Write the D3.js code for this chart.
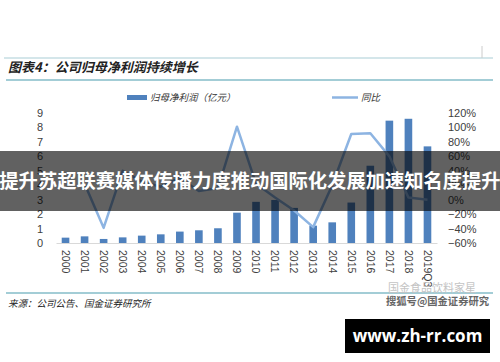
<!DOCTYPE html>
<html>
<head>
<meta charset="utf-8">
<script src="https://d3js.org/d3.v7.min.js"></script>
<style>
  body { margin: 0; background: #fff; }
  svg { display: block; }
</style>
</head>
<body>
<svg id="chart" width="500" height="362"></svg>
<script>
// data
var years = ['2000','2001','2002','2003','2004','2005','2006','2007','2008','2009',
             '2010','2011','2012','2013','2014','2015','2016','2017','2018','2019Q3'];
var profit = [0.37, 0.46, 0.28, 0.39, 0.51, 0.6, 0.79, 0.88, 1.02, 2.1,
              2.85, 2.98, 2.43, 1.2, 1.43, 2.8, 5.35, 8.47, 8.6, 6.69];
var yoy = [null, 0.22, -0.39, 0.40, 0.25, 0.18, 0.30, 0.12, 0.16, 1.01,
           0.22, 0.03, -0.15, -0.38, 0.20, 0.91, 0.92, 0.60, 0.03, 0.0];
var leftTicks = [0,1,2,3,4,5,6,7,8,9];
var rightTicks = [-0.6,-0.4,-0.2,0,0.2,0.4,0.6,0.8,1.0,1.2];

var svg = d3.select('#chart');
var cjk = '"Noto Sans CJK SC", sans-serif';
var latin = 'Arial, "Liberation Sans", sans-serif';
var barColor = '#4f81bd', lineColor = '#8db4e2', teal = '#84bcc8';

var plotTop = 113, plotBottom = 243, plotLeft = 56, plotRight = 437;

var x = d3.scaleBand().domain(years).range([plotLeft, plotRight])
  .paddingInner(0.6).paddingOuter(0.3);
var yL = d3.scaleLinear().domain([0, 9]).range([plotBottom, plotTop]);
var yR = d3.scaleLinear().domain([-0.6, 1.2]).range([plotBottom, plotTop]);

// header rules + title
svg.append('line').attr('x1', 4).attr('x2', 493).attr('y1', 58).attr('y2', 58)
  .attr('stroke', '#a9cdd5').attr('stroke-width', 1);
svg.append('line').attr('x1', 482).attr('x2', 482).attr('y1', 46).attr('y2', 58)
  .attr('stroke', '#ccc').attr('stroke-width', 1);
svg.append('text').attr('x', 8).attr('y', 72)
  .attr('font-family', cjk).attr('font-size', 13).attr('font-weight', 'bold')
  .attr('font-style', 'italic').attr('fill', '#222')
  .text('图表4：公司归母净利润持续增长');
svg.append('line').attr('x1', 6).attr('x2', 493).attr('y1', 80).attr('y2', 80)
  .attr('stroke', teal).attr('stroke-width', 1.5);

// legend
svg.append('rect').attr('x', 127).attr('y', 95).attr('width', 20).attr('height', 5)
  .attr('fill', barColor);
svg.append('text').attr('x', 150).attr('y', 101)
  .attr('font-family', cjk).attr('font-size', 9.5).attr('font-style', 'italic').attr('fill', '#333')
  .text('归母净利润（亿元）');
svg.append('line').attr('x1', 332).attr('x2', 358).attr('y1', 97.5).attr('y2', 97.5)
  .attr('stroke', lineColor).attr('stroke-width', 2.5);
svg.append('text').attr('x', 361).attr('y', 101)
  .attr('font-family', cjk).attr('font-size', 9.5).attr('font-style', 'italic').attr('fill', '#333')
  .text('同比');

// axes
var axL = svg.append('g').attr('transform', 'translate(' + plotLeft + ',0)')
  .call(d3.axisLeft(yL).tickValues(leftTicks).tickSize(0).tickPadding(13));
axL.select('.domain').remove();
axL.selectAll('text').attr('font-family', latin).attr('font-size', 11).attr('fill', '#404040')
  .attr('text-anchor', 'middle').attr('x', -16);

var axR = svg.append('g').attr('transform', 'translate(' + plotRight + ',0)')
  .call(d3.axisRight(yR).tickValues(rightTicks).tickSize(0).tickPadding(11).tickFormat(d3.format('.0%')));
axR.select('.domain').remove();
axR.selectAll('text').attr('font-family', latin).attr('font-size', 11).attr('fill', '#404040');

var axB = svg.append('g').attr('transform', 'translate(0,' + plotBottom + ')')
  .call(d3.axisBottom(x).tickSize(0).tickPadding(0));
axB.select('.domain').attr('stroke', '#d9d9d9');
axB.selectAll('text')
  .attr('font-family', latin).attr('font-size', 10.5).attr('fill', '#404040')
  .attr('transform', 'rotate(90)').attr('text-anchor', 'start')
  .attr('x', 7).attr('y', 0).attr('dy', '0.35em');

// bars
svg.append('g').selectAll('rect').data(years).enter().append('rect')
  .attr('x', function(d) { return x(d); })
  .attr('width', x.bandwidth())
  .attr('y', function(d, i) { return yL(profit[i]); })
  .attr('height', function(d, i) { return yL(0) - yL(profit[i]); })
  .attr('fill', barColor);

// yoy line
var line = d3.line()
  .defined(function(d) { return d[1] != null; })
  .x(function(d) { return x(d[0]) + x.bandwidth() / 2; })
  .y(function(d) { return yR(d[1]); });
svg.append('path').datum(years.map(function(d, i) { return [d, yoy[i]]; }))
  .attr('d', line).attr('fill', 'none').attr('stroke', lineColor)
  .attr('stroke-width', 2.5).attr('stroke-linejoin', 'round');

// footer
svg.append('line').attr('x1', 6).attr('x2', 493).attr('y1', 293).attr('y2', 293)
  .attr('stroke', teal).attr('stroke-width', 1.5);
svg.append('text').attr('x', 8).attr('y', 307)
  .attr('font-family', cjk).attr('font-size', 9.5).attr('font-style', 'italic').attr('fill', '#222')
  .text('来源：公司公告、国金证券研究所');

// watermarks
svg.append('text').attr('x', 388).attr('y', 292)
  .attr('font-family', cjk).attr('font-size', 11).attr('fill', '#c4c4c4')
  .text('国金食品饮料家星');
svg.append('text').attr('x', 386).attr('y', 305)
  .attr('font-family', cjk).attr('font-size', 10.3).attr('font-weight', 'bold').attr('fill', '#666')
  .text('搜狐号@国金证券研究');
svg.append('rect').attr('x', 345).attr('y', 319).attr('width', 145).attr('height', 34)
  .attr('fill', '#000');
svg.append('text').attr('x', 417.5).attr('y', 342).attr('text-anchor', 'middle')
  .attr('font-family', '"Open Sans", sans-serif').attr('font-size', 17).attr('font-weight', 'bold')
  .attr('fill', '#fff').text('www.zh-rr.com');

// banner overlay
svg.append('rect').attr('x', 0).attr('y', 151).attr('width', 500).attr('height', 60)
  .attr('fill', 'rgba(0,0,0,0.62)');
svg.append('text').attr('x', 250).attr('y', 188).attr('text-anchor', 'middle')
  .attr('font-family', cjk).attr('font-size', 19.3).attr('font-weight', 'bold')
  .attr('fill', '#fff').text('提升苏超联赛媒体传播力度推动国际化发展加速知名度提升');
</script>
</body>
</html>
